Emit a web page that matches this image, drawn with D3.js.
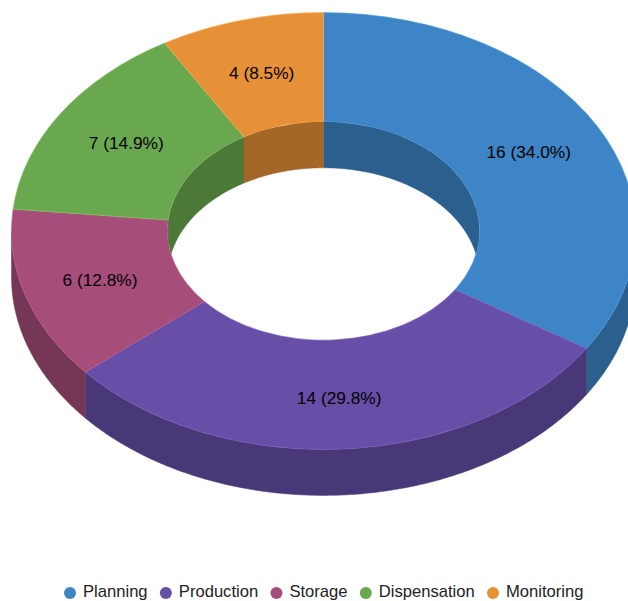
<!DOCTYPE html>
<html>
<head>
<meta charset="utf-8">
<style>
  html, body { margin: 0; padding: 0; background: #fff; overflow: hidden; }
  text { font-family: "Liberation Sans", Arial, sans-serif; }
  .label { font-size: 17.3px; }
  .legend text { font-size: 16.6px; }
</style>
<script src="https://cdn.jsdelivr.net/npm/d3@7"></script>
</head>
<body>
<svg id="chart" width="628" height="601"></svg>
<script>
var categories = ["Planning", "Production", "Storage", "Dispensation", "Monitoring"];
var values = [16, 14, 6, 7, 4];
var colors = ["#3d85c6", "#674ea7", "#a64d79", "#6aa84f", "#e69138"];

var
  cx = 323.5,
  cy = 231,
  radius = 312,
  innerRadius = 156,
  squash = 0.7,
  depth = 46,
  labelDrop = 3.5,
  legendY = 593;

var svg = d3.select("#chart");
var total = d3.sum(values);

var slices = d3.pie().sort(null)(values);
var arc = d3.arc().innerRadius(innerRadius).outerRadius(radius);

// project an angle on the tilted disc (0 = up, clockwise)
function px(r, a) { return r * Math.sin(a); }
function py(r, a) { return -r * Math.cos(a) * squash; }

// band between the top edge and the same edge moved down by depth
function wallPath(r, a0, a1) {
  var n = Math.max(2, Math.ceil((a1 - a0) / 0.01));
  var angles = d3.range(n + 1).map(function (i) { return a0 + (a1 - a0) * i / n; });
  var top = angles.map(function (a) { return { a: a, y: py(r, a) }; });
  var bottom = angles.slice().reverse().map(function (a) { return { a: a, y: py(r, a) + depth }; });
  return d3.line()
    .x(function (d) { return px(r, d.a); })
    .y(function (d) { return d.y; })(top.concat(bottom)) + "Z";
}

function shade(c) { return d3.rgb(c).darker(0.95).formatHex(); }

var g = svg.append("g").attr("transform", "translate(" + cx + "," + cy + ")");

svg.append("clipPath").attr("id", "hole")
  .append("ellipse")
  .attr("rx", innerRadius)
  .attr("ry", innerRadius * squash);

// outer wall, front half only
g.selectAll(".outer-wall")
  .data(slices.filter(function (d) { return d.endAngle > Math.PI / 2 && d.startAngle < Math.PI * 1.5; }))
  .enter().append("path")
  .attr("class", "outer-wall")
  .attr("d", function (d) {
    return wallPath(radius, Math.max(d.startAngle, Math.PI / 2), Math.min(d.endAngle, Math.PI * 1.5));
  })
  .attr("fill", function (d) { return shade(colors[d.index]); })
  .attr("stroke", function (d) { return shade(colors[d.index]); })
  .attr("stroke-width", 0.5);

// top face
g.append("g")
  .attr("transform", "scale(1," + squash + ")")
  .selectAll("path")
  .data(slices)
  .enter().append("path")
  .attr("d", arc)
  .attr("fill", function (d) { return colors[d.index]; })
  .attr("stroke", function (d) { return d3.rgb(colors[d.index]).brighter(0.5).formatHex(); })
  .attr("stroke-width", 0.6)
  .attr("vector-effect", "non-scaling-stroke");

// inner wall, back half only, seen through the hole
g.append("g")
  .attr("clip-path", "url(#hole)")
  .selectAll("path")
  .data(slices.filter(function (d) { return d.endAngle > Math.PI * 1.5 || d.startAngle < Math.PI / 2; }))
  .enter().append("path")
  .attr("d", function (d) {
    if (d.startAngle < Math.PI / 2) {
      return wallPath(innerRadius, d.startAngle, Math.min(d.endAngle, Math.PI / 2));
    }
    return wallPath(innerRadius, Math.max(d.startAngle, Math.PI * 1.5), d.endAngle);
  })
  .attr("fill", function (d) { return shade(colors[d.index]); })
  .attr("stroke", function (d) { return shade(colors[d.index]); })
  .attr("stroke-width", 0.5);

// slice labels, the ones facing front sit a little lower
g.selectAll(".label")
  .data(slices)
  .enter().append("text")
  .attr("class", "label")
  .attr("text-anchor", "middle")
  .attr("dy", "0.35em")
  .attr("fill", "#000")
  .attr("transform", function (d) {
    var c = arc.centroid(d);
    var front = Math.max(0, -Math.cos((d.startAngle + d.endAngle) / 2));
    return "translate(" + c[0] + "," + (c[1] * squash + labelDrop * front * front) + ")";
  })
  .text(function (d) {
    return d.value + " (" + d3.format(".1f")(d.value / total * 100) + "%)";
  });

// legend, laid out from measured text
var legend = svg.append("g").attr("class", "legend");
var items = legend.selectAll("g")
  .data(categories)
  .enter().append("g");

items.append("circle")
  .attr("r", 6)
  .attr("cy", legendY)
  .attr("fill", function (d, i) { return colors[i]; });

items.append("text")
  .attr("x", 13)
  .attr("y", legendY)
  .attr("dy", "0.27em")
  .attr("fill", "#222")
  .text(function (d) { return d; });

var x = 0;
items.attr("transform", function () {
  var w = d3.select(this).select("text").node().getComputedTextLength();
  var t = "translate(" + x + ",0)";
  x += 13 + w + 18.25;
  return t;
});
legend.attr("transform", "translate(70,0)");
</script>
</body>
</html>
